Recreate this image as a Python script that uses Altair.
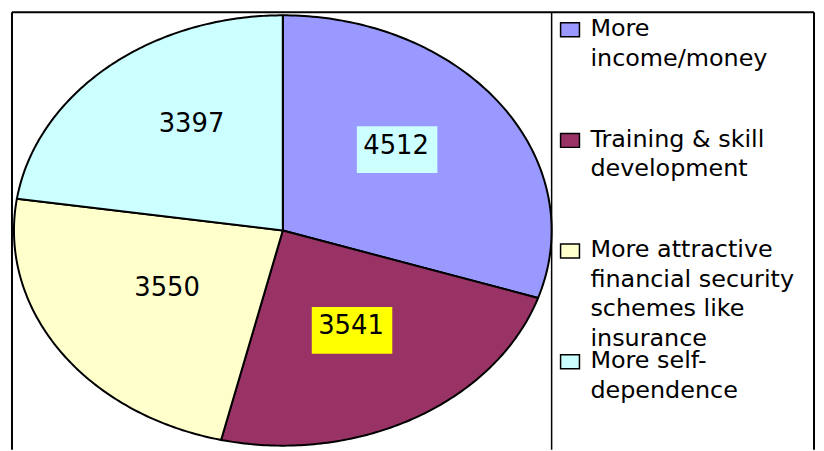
import altair as alt
import pandas as pd

# ---- data ----
categories = ["More income/money", "Training & skill development",
              "More attractive financial security schemes like insurance",
              "More self-dependence"]
values = [4512, 3541, 3550, 3397]
colors = ["#9999FF", "#993366", "#FFFFCC", "#CCFFFF"]
legend_text = ["More\nincome/money", "Training & skill\ndevelopment",
               "More attractive\nfinancial security\nschemes like\ninsurance",
               "More self-\ndependence"]

df = pd.DataFrame({"idx": list(range(len(categories))), "category": categories,
                   "value": values, "legend": legend_text})

N = 120            # points per arc
RX, RY, DY = 0.52, 0.576, 0.057   # label placement (fractions of pie radius)
W, H = 807, 440

xs = alt.Scale(domain=[-1, 1], range=[2, 543], nice=False, zero=False)
ys = alt.Scale(domain=[-1, 1], range=[436, 3], nice=False, zero=False)
ls = alt.Scale(domain=[0, 3], range=[24, 358], nice=False, zero=False)
fill_enc = alt.Fill("category:N", scale=alt.Scale(domain=categories, range=colors), legend=None)

base = (alt.Chart(df)
        .transform_joinaggregate(total="sum(value)")
        .transform_window(cum="sum(value)", sort=[alt.SortField("idx")])
        .transform_calculate(a0="(datum.cum - datum.value) / datum.total * 2 * PI",
                             a1="datum.cum / datum.total * 2 * PI"))

pie = (base
       .transform_calculate(steps=f"sequence(0, {N + 2})")
       .transform_flatten(["steps"])
       .transform_calculate(
           ang=f"datum.a0 + (datum.a1 - datum.a0) * (datum.steps - 1) / {N - 1}",
           px=f"(datum.steps == 0 || datum.steps == {N + 1}) ? 0 : sin(datum.ang)",
           py=f"(datum.steps == 0 || datum.steps == {N + 1}) ? 0 : cos(datum.ang)")
       .mark_line(interpolate="linear", stroke="black", strokeWidth=2, strokeJoin="round")
       .encode(x=alt.X("px:Q", scale=xs, axis=None),
               y=alt.Y("py:Q", scale=ys, axis=None),
               detail="category:N",
               order="steps:Q",
               fill=fill_enc))

lab = base.transform_calculate(mid="(datum.a0 + datum.a1) / 2",
                               lx=f"{RX} * sin(datum.mid)",
                               ly=f"{RY} * cos(datum.mid) + {DY}")

box_shape = "M-1,-0.58L1,-0.58L1,0.58L-1,0.58Z"
box1 = (lab.transform_filter(alt.datum.category == categories[0])
        .mark_point(shape=box_shape, size=81 * 81, filled=True, color="#CCFFFF",
                    opacity=1, strokeWidth=0, yOffset=4, xOffset=1)
        .encode(x=alt.X("lx:Q", scale=xs, axis=None), y=alt.Y("ly:Q", scale=ys, axis=None)))
box2 = (lab.transform_filter(alt.datum.category == categories[1])
        .mark_point(shape=box_shape, size=81 * 81, filled=True, color="#FFFF00",
                    opacity=1, strokeWidth=0, yOffset=4, xOffset=1)
        .encode(x=alt.X("lx:Q", scale=xs, axis=None), y=alt.Y("ly:Q", scale=ys, axis=None)))

labels = (lab.mark_text(font="DejaVu Sans", fontSize=26, baseline="middle", align="center",
                        color="black")
          .encode(x=alt.X("lx:Q", scale=xs, axis=None),
                  y=alt.Y("ly:Q", scale=ys, axis=None),
                  text="value:Q"))

one = alt.Data(values=[{"k": 1}])
divider = (alt.Chart(one).mark_rule(color="black", strokeWidth=1.5)
           .encode(x=alt.value(543), y=alt.value(0), y2=alt.value(H)))
frame_top = (alt.Chart(one).mark_rule(color="black", strokeWidth=2)
             .encode(x=alt.value(0), x2=alt.value(W), y=alt.value(0)))
frame_left = (alt.Chart(one).mark_rule(color="black", strokeWidth=2)
              .encode(x=alt.value(0), y=alt.value(0), y2=alt.value(H)))
frame_right = (alt.Chart(one).mark_rule(color="black", strokeWidth=2)
               .encode(x=alt.value(W), y=alt.value(0), y2=alt.value(H)))

leg_sym = (alt.Chart(df)
           .mark_point(shape="M-1,-0.74L1,-0.74L1,0.74L-1,0.74Z", size=361, filled=True,
                       stroke="black", strokeWidth=1.5, opacity=1, yOffset=-6.5)
           .encode(x=alt.value(561.5), y=alt.Y("idx:Q", scale=ls, axis=None), fill=fill_enc))

leg_txt = (alt.Chart(df)
           .mark_text(align="left", baseline="alphabetic", lineBreak="\n", lineHeight=29.6,
                      font="DejaVu Sans", fontSize=24, color="black")
           .encode(x=alt.value(582), y=alt.Y("idx:Q", scale=ls, axis=None), text="legend:N"))

chart = (alt.layer(pie, box1, box2, labels, divider, frame_top, frame_left, frame_right,
                   leg_sym, leg_txt)
         .resolve_scale(x="independent", y="independent", fill="shared")
         .properties(width=W, height=H,
                     padding={"left": 4, "top": 3, "right": 2, "bottom": 0},
                     autosize=alt.AutoSizeParams(type="none"))
         .configure_view(stroke=None))

chart.save("out.html", embed_options={"renderer": "svg", "actions": False})
